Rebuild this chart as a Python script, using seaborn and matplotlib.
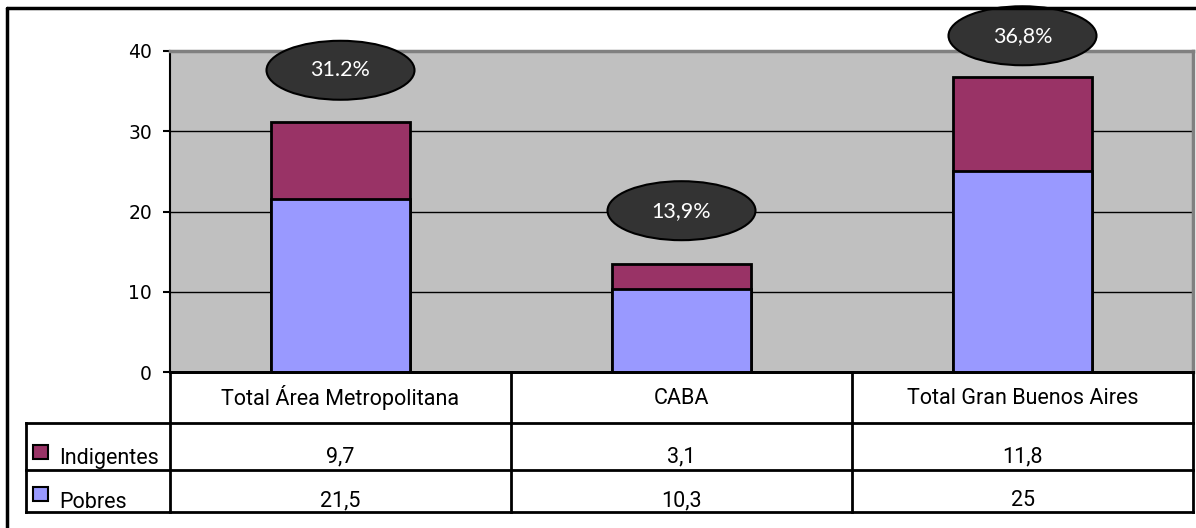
import matplotlib
matplotlib.use("Agg")
import matplotlib.pyplot as plt
from matplotlib.patches import Ellipse, Rectangle
from matplotlib.lines import Line2D
import seaborn as sns
import pandas as pd

# ---- data ----
regions = ["Total Área Metropolitana", "CABA", "Total Gran Buenos Aires"]
pobres = [21.5, 10.3, 25]
indigentes = [9.7, 3.1, 11.8]
pobres_txt = ["21,5", "10,3", "25"]
indigentes_txt = ["9,7", "3,1", "11,8"]
total_labels = ["31.2%", "13,9%", "36,8%"]
label_offset = [6.4, 6.7, 5.1]
yticks = [0, 10, 20, 30, 40]

C_POB = "#9999FF"
C_IND = "#993366"
C_BG = "#C0C0C0"

sns.set_theme(style="white")
plt.rcParams["font.family"] = ["DejaVu Sans"]
plt.rcParams["text.color"] = "black"

W, H = 1196, 528
fig = plt.figure(figsize=(W / 100, H / 100), dpi=100)
fig.patch.set_facecolor("white")

def fx(p):
    return p / W

def fy(p):
    return 1 - p / H

PL, PR, PT, PB = 170, 1193, 51, 372
ax = fig.add_axes([fx(PL), fy(PB), fx(PR) - fx(PL), fy(PT) - fy(PB)])

df = pd.DataFrame({"region": regions, "Pobres": pobres, "Indigentes": indigentes})
df["total"] = df["Pobres"] + df["Indigentes"]

sns.barplot(data=df, x="region", y="total", color=C_IND, saturation=1,
            edgecolor="black", linewidth=2, width=0.405, ax=ax, zorder=3)
sns.barplot(data=df, x="region", y="Pobres", color=C_POB, saturation=1,
            edgecolor="black", linewidth=2, width=0.405, ax=ax, zorder=3)

ax.set_xlim(-0.5, 2.5)
ax.set_ylim(0, 40)
ax.set_facecolor(C_BG)
ax.set_yticks(yticks)
ax.set_yticklabels([str(t) for t in yticks])
ax.set_xticks([])
ax.set_xlabel("")
ax.set_ylabel("")
ax.yaxis.grid(True, color="black", linewidth=1.0)
ax.set_axisbelow(True)
for s in ["top", "right"]:
    ax.spines[s].set_color("#808080")
    ax.spines[s].set_linewidth(2.5)
ax.spines["left"].set_color("black")
ax.spines["left"].set_linewidth(1.5)
ax.spines["bottom"].set_color("black")
ax.spines["bottom"].set_linewidth(2)
ax.tick_params(axis="y", left=True, length=5, width=1.5, direction="out",
               pad=8, labelsize=13.5, colors="black")

# bubbles with totals
for i, (t, lab, off) in enumerate(zip(df["total"], total_labels, label_offset)):
    e = Ellipse((i, t + off), width=0.434, height=7.35, facecolor="#333333",
                edgecolor="black", linewidth=1.5, clip_on=False, zorder=6)
    ax.add_patch(e)
    ax.text(i, t + off, lab, color="white", ha="center", va="center",
            fontsize=15.5, family=["Lato", "DejaVu Sans"], zorder=7, clip_on=False)

# ---- data table ----
TL, TB = 26, 512
cat_px = (PR - PL) / 3
left_u = -0.5 - (PL - TL) / cat_px
tax = fig.add_axes([fx(TL), fy(TB), fx(PR) - fx(TL), fy(PB) - fy(TB)])
tax.set_xlim(left_u, 2.5)
tax.set_ylim(TB - PB, 0)
tax.axis("off")

r1, r2, r3 = 51, 98, TB - PB
lw = 2
kw = dict(color="black", linewidth=lw, solid_capstyle="projecting", clip_on=False)
tax.plot([-0.5, 2.5], [0, 0], **kw)
for x in [-0.5, 0.5, 1.5, 2.5]:
    tax.plot([x, x], [0, r3], **kw)
tax.plot([left_u, left_u], [r1, r3], **kw)
for y in [r1, r2, r3]:
    tax.plot([left_u, 2.5], [y, y], **kw)

tfont = ["Liberation Sans Narrow", "Roboto", "DejaVu Sans"]
fs = 15.5
for i, name in enumerate(regions):
    tax.text(i, 26, name, ha="center", va="center", fontsize=fs, family=tfont, color="black")
    tax.text(i, 85, indigentes_txt[i], ha="center", va="center", fontsize=fs, family=tfont, color="black")
    tax.text(i, 129, pobres_txt[i], ha="center", va="center", fontsize=fs, family=tfont, color="black")

sq_w = 15 / cat_px
sq_x = left_u + 7 / cat_px
tax.add_patch(Rectangle((sq_x, 73), sq_w, 14, facecolor=C_IND, edgecolor="black",
                        linewidth=1.5, clip_on=False))
tax.add_patch(Rectangle((sq_x, 115), sq_w, 14, facecolor=C_POB, edgecolor="black",
                        linewidth=1.5, clip_on=False))
tx = left_u + 33 / cat_px
tax.text(tx, 97, "Indigentes", ha="left", va="bottom", fontsize=fs, family=tfont, color="black")
tax.text(tx, 141, "Pobres", ha="left", va="bottom", fontsize=fs, family=tfont, color="black")

# outer frame (left & top visible)
fig.add_artist(Line2D([fx(7), fx(7)], [fy(8), 0], color="black", linewidth=2.5,
                      transform=fig.transFigure))
fig.add_artist(Line2D([fx(7), 1], [fy(8), fy(8)], color="black", linewidth=2.5,
                      transform=fig.transFigure))

fig.savefig("out.png", dpi=100, facecolor="white")
